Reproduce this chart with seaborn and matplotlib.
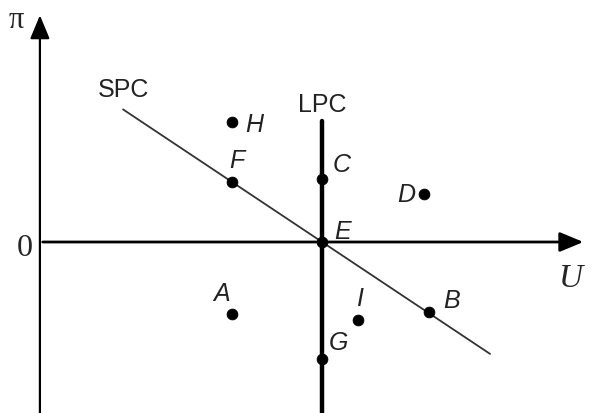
import matplotlib
matplotlib.use("Agg")
import matplotlib.pyplot as plt
import seaborn as sns
import pandas as pd

# ─────────────────────────────────────────────
# DATA  (units: E at origin, SPC slope -2/3)
# ─────────────────────────────────────────────
point_names = ["H", "F", "C", "D", "E", "A", "I", "B", "G"]
point_u     = [-3.0, -3.0, 0.0, 3.4, 0.0, -3.0, 1.2, 3.55, 0.0]
point_pi    = [4.0, 2.0, 2.1, 1.6, 0.0, -2.4, -2.6, -2.33, -3.9]

# label offsets (in data units) relative to each point
label_du  = [0.75, 0.17, 0.65, -0.6, 0.7, -0.35, 0.05, 0.75, 0.55]
label_dpi = [-0.05, 0.72, 0.5, 0.0, 0.35, 0.7, 0.72, 0.4, 0.55]

spc_u  = [-6.63, 5.6]
spc_pi = [4.42, -3.73]
lpc_u  = [0.0, 0.0]
lpc_pi = [4.03, -5.8]

sns.set_theme(style="white")
plt.rcParams["font.family"] = ["Liberation Sans", "DejaVu Sans"]

fig = plt.figure(figsize=(5.96, 4.14), dpi=100)
ax = fig.add_axes([0, 0, 1, 1])
ax.set_xlim(-10.73, 9.13)
ax.set_ylim(-5.7, 8.1)
ax.axis("off")

# axes with arrows
ax.annotate("", xy=(8.8, 0), xytext=(-9.4, 0),
            arrowprops=dict(arrowstyle="-|>,head_length=1.2,head_width=0.5",
                            color="black", lw=2))
ax.annotate("", xy=(-9.4, 7.65), xytext=(-9.4, -5.8),
            arrowprops=dict(arrowstyle="-|>,head_length=1.2,head_width=0.5",
                            color="black", lw=1.6))

# curves
sns.lineplot(x=spc_u, y=spc_pi, ax=ax, color="#333333", lw=1.3,
             sort=False, estimator=None)
sns.lineplot(x=lpc_u, y=lpc_pi, ax=ax, color="black", lw=3.2,
             sort=False, estimator=None)

# points
df = pd.DataFrame({"U": point_u, "pi": point_pi, "name": point_names})
sns.scatterplot(data=df, x="U", y="pi", ax=ax, color="black", s=60,
                edgecolor="black", zorder=5)

for n, u, p, du, dp in zip(point_names, point_u, point_pi, label_du, label_dpi):
    ax.text(u + du, p + dp, n, fontsize=18, style="italic",
            ha="center", va="center", color="#222222")

ax.text(-6.6, 5.1, "SPC", fontsize=18, ha="center", va="center", color="#222222")
ax.text(0.0, 4.6, "LPC", fontsize=18, ha="center", va="center", color="#222222")

serif = ["Liberation Serif", "DejaVu Serif"]
ax.text(-9.9, -0.18, "0", fontsize=23, family=serif, ha="center", va="center")
ax.text(-10.2, 7.4, "π", fontsize=22, family=serif, ha="center", va="center")
ax.text(8.3, -1.2, "U", fontsize=24, family=serif, style="italic",
        ha="center", va="center")

fig.savefig("out.png", dpi=100)
